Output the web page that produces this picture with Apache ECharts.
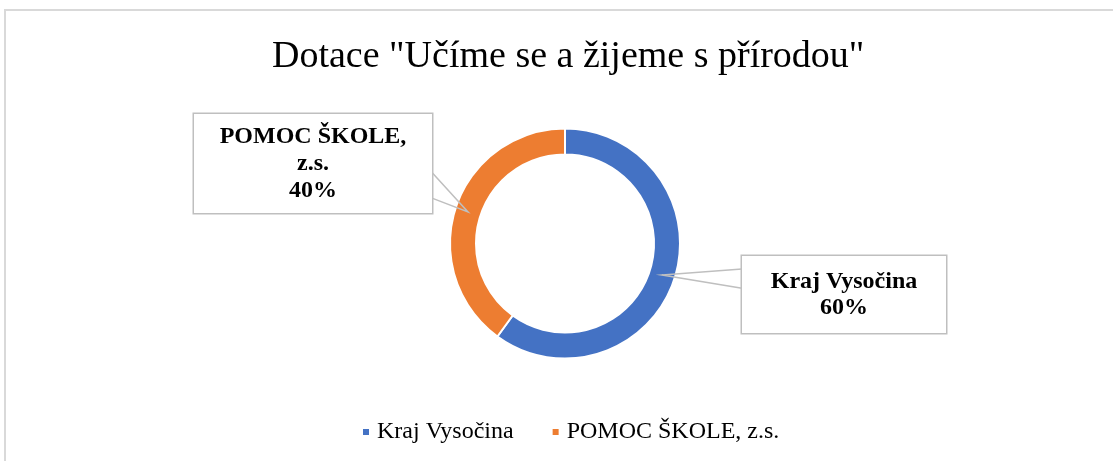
<!DOCTYPE html>
<html>
<head>
<meta charset="utf-8">
<title>Dotace</title>
<script src="https://cdn.jsdelivr.net/npm/echarts@6/dist/echarts.min.js"></script>
<style>
  html, body {
    margin: 0;
    padding: 0;
    background: #fff;
  }
  #chartBox {
    width: 1113px;
    height: 461px;
  }
</style>
</head>
<body>
<div id="chartBox"></div>
<script>
  // data
  const titleText = 'Dotace "Učíme se a žijeme s přírodou"';
  const names = ['Kraj Vysočina', 'POMOC ŠKOLE, z.s.'];
  const shares = [60, 40];
  const colors = ['#4472C4', '#ED7D31'];

  const serif = '"Liberation Serif", "DejaVu Serif", serif';

  // layout of the ring
  const pieCenter = [565, 243.5];
  const pieRadius = [89, 115];

  // callout boxes (centre + size) and where the wedge meets the box edge (share of height)
  const boxes = [
    {cx: 844, cy: 294.5, w: 204, h: 77, wedge: [0.17, 0.42]},
    {cx: 313, cy: 163.5, w: 238, h: 99, wedge: [0.59, 0.85]}
  ];

  const pieData = names.map((n, i) => ({name: n, value: shares[i]}));

  const chart = echarts.init(document.getElementById('chartBox'), null, {renderer: 'canvas'});

  const option = {
    animation: false,
    color: colors,
    graphic: [
      {
        type: 'rect',
        z: -1,
        shape: {x: 5, y: 10, width: 1200, height: 500},
        style: {fill: 'none', stroke: '#d9d9d9', lineWidth: 2}
      }
    ],
    title: {
      text: titleText,
      left: 267,
      top: 33,
      textStyle: {
        fontFamily: serif,
        fontWeight: 'normal',
        fontSize: 38,
        color: '#000'
      }
    },
    legend: {
      bottom: 12,
      left: 356,
      icon: 'rect',
      itemWidth: 8,
      itemHeight: 8,
      itemGap: 37,
      textStyle: {
        fontFamily: serif,
        fontSize: 24,
        color: '#000',
        padding: [0, 0, 0, 2]
      },
      data: names
    },
    series: [
      {
        // the ring itself
        name: 'Dotace',
        type: 'pie',
        z: 2,
        center: pieCenter,
        radius: pieRadius,
        startAngle: 90,
        clockwise: true,
        itemStyle: {
          borderColor: '#fff',
          borderWidth: 2
        },
        label: {show: false},
        labelLine: {show: false},
        data: pieData
      },
      {
        // same slices, invisible, only carries the callouts so they sit above the ring
        name: 'Popisky',
        type: 'pie',
        z: 3,
        silent: true,
        center: pieCenter,
        radius: pieRadius,
        startAngle: 90,
        clockwise: true,
        itemStyle: {
          color: 'rgba(0,0,0,0)',
          borderWidth: 0
        },
        label: {
          show: true,
          position: 'outside',
          fontFamily: serif,
          fontWeight: 'bold',
          fontSize: 24,
          lineHeight: 27,
          color: '#000',
          backgroundColor: '#fff',
          borderColor: '#bfbfbf',
          borderWidth: 1.5,
          padding: 0,
          formatter: p => p.name.replace(', ', ',\n') + '\n' + p.percent + '%'
        },
        labelLine: {
          show: true,
          length: 20,
          length2: 20,
          lineStyle: {color: '#bfbfbf', width: 1.5}
        },
        labelLayout: params => {
          const b = boxes[params.dataIndex];
          const res = {
            x: b.cx,
            y: b.cy,
            width: b.w,
            height: b.h,
            align: 'center',
            verticalAlign: 'middle'
          };
          const pts = params.labelLinePoints;
          if (pts && pts.length) {
            // tip in the middle of the ring, on the slice's mid angle
            const k = (pieRadius[0] + pieRadius[1]) / 2 / pieRadius[1];
            const tip = [
              pieCenter[0] + (pts[0][0] - pieCenter[0]) * k,
              pieCenter[1] + (pts[0][1] - pieCenter[1]) * k
            ];
            const edgeX = tip[0] > b.cx ? b.cx + b.w / 2 : b.cx - b.w / 2;
            const top = b.cy - b.h / 2;
            res.labelLinePoints = [
              [edgeX, top + b.h * b.wedge[0]],
              tip,
              [edgeX, top + b.h * b.wedge[1]]
            ];
          }
          return res;
        },
        data: pieData.map((d, i) => Object.assign({}, d, {
          label: {lineHeight: i === 0 ? 26 : 27}
        }))
      }
    ]
  };

  chart.setOption(option);
</script>
</body>
</html>
